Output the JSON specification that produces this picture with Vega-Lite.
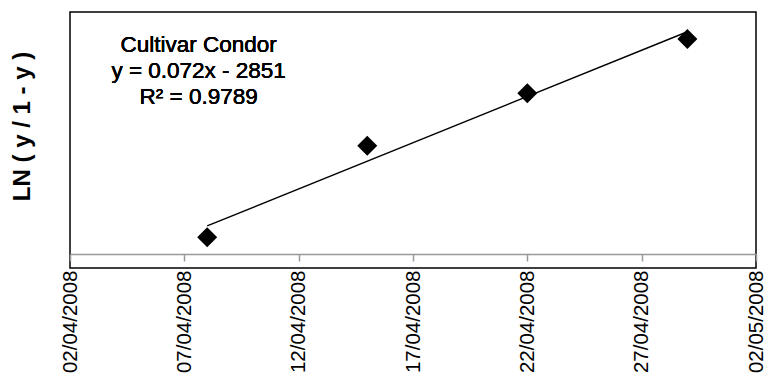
{
  "$schema": "https://vega.github.io/schema/vega-lite/v6.json",
  "width": 686,
  "height": 256,
  "autosize": {"type": "none"},
  "padding": {"left": 70, "top": 12, "right": 12, "bottom": 107},
  "background": "white",
  "config": {
    "font": "Liberation Sans",
    "view": {"stroke": "black", "strokeWidth": 1.5}
  },
  "data": {
    "values": [
      {"date": "2008-04-08", "y": -3.760},
      {"date": "2008-04-15", "y": -3.045},
      {"date": "2008-04-22", "y": -2.635},
      {"date": "2008-04-29", "y": -2.211}
    ]
  },
  "encoding": {
    "x": {
      "field": "date",
      "type": "temporal",
      "scale": {
        "type": "utc",
        "domain": [
          {"year": 2008, "month": 4, "date": 2, "utc": true},
          {"year": 2008, "month": 5, "date": 2, "utc": true}
        ],
        "nice": false
      },
      "axis": {
        "title": null,
        "values": [
          {"year": 2008, "month": 4, "date": 2, "utc": true},
          {"year": 2008, "month": 4, "date": 7, "utc": true},
          {"year": 2008, "month": 4, "date": 12, "utc": true},
          {"year": 2008, "month": 4, "date": 17, "utc": true},
          {"year": 2008, "month": 4, "date": 22, "utc": true},
          {"year": 2008, "month": 4, "date": 27, "utc": true},
          {"year": 2008, "month": 5, "date": 2, "utc": true}
        ],
        "format": "%d/%m/%Y",
        "offset": -14,
        "domainColor": "#999999",
        "domainWidth": 1.5,
        "tickColor": "#999999",
        "tickWidth": 1.5,
        "tickSize": 7,
        "labelAngle": 270,
        "labelAlign": "right",
        "labelBaseline": "middle",
        "labelPadding": 9,
        "labelFontSize": 20.5,
        "labelColor": "black",
        "labelFont": "Liberation Sans",
        "labelOverlap": false,
        "labelFlush": false,
        "grid": false
      }
    },
    "y": {
      "field": "y",
      "type": "quantitative",
      "scale": {"domain": [-4, -2], "nice": false, "zero": false},
      "axis": {
        "title": "LN  (  y / 1 - y  )",
        "titleFont": "Liberation Sans",
        "titleFontSize": 24,
        "titleFontWeight": "bold",
        "titleColor": "black",
        "titleAngle": 270,
        "titleX": -48,
        "titleY": 114,
        "titleAlign": "center",
        "titleBaseline": "middle",
        "labels": false,
        "ticks": false,
        "domain": false,
        "grid": false
      }
    }
  },
  "layer": [
    {
      "transform": [{"regression": "y", "on": "date"}],
      "mark": {"type": "line", "color": "black", "strokeWidth": 1.5}
    },
    {
      "mark": {"type": "point", "shape": "diamond", "filled": true, "color": "black", "opacity": 1, "size": 400}
    },
    {
      "mark": {
        "type": "text",
        "text": ["Cultivar Condor", "y = 0.072x - 2851", "R² = 0.9789"],
        "font": "Liberation Sans",
        "fontSize": 22.5,
        "fontWeight": "normal",
        "lineHeight": 26,
        "align": "center",
        "baseline": "alphabetic",
        "color": "black"
      },
      "encoding": {
        "x": {"datum": {"year": 2008, "month": 4, "date": 7, "hours": 15, "utc": true}, "type": "temporal"},
        "y": {"datum": -2.31, "type": "quantitative"}
      }
    }
  ]
}
